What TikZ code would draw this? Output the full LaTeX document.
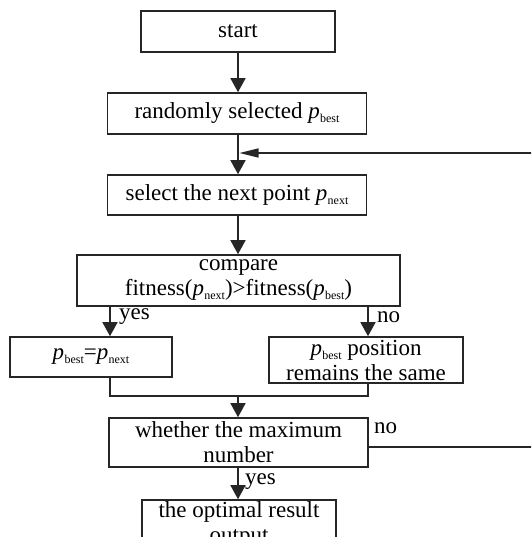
\documentclass[tikz,border=0pt]{standalone}
\usepackage{fontspec}
\setmainfont{Liberation Serif}
\usetikzlibrary{arrows.meta}
% italic variable with a small lowered subscript word
\newcommand\pvar[1]{\textit{p}\kern0.3pt\raisebox{-4pt}{\fontsize{12}{12}\selectfont #1}}
\definecolor{linec}{HTML}{262626}
\begin{document}
\begin{tikzpicture}[x=1pt,y=-1pt,
  font=\fontsize{23}{25}\selectfont,
  box/.style={draw=linec, line width=1.6pt, align=center, inner sep=0pt},
  arr/.style={draw=linec, line width=1.5pt, -{Triangle[length=14pt,width=15pt]}},
  wire/.style={draw=linec, line width=1.5pt},
  lbl/.style={inner sep=0pt, anchor=west}]
\clip (0,0) rectangle (531,537);
\useasboundingbox (0,0) rectangle (531,537);

% process boxes
\node[box, minimum width=194pt, minimum height=41pt] (start) at (238,31.5) {start};
\node[box, minimum width=259pt, minimum height=41pt] (rand) at (237,113.5) {randomly selected \pvar{best}};
\node[box, minimum width=259pt, minimum height=40pt] (sel) at (237,195) {select the next point \pvar{next}};
\node[box, minimum width=323pt, minimum height=51pt] (cmp) at (238.5,280.5)
  {compare\\fitness(\pvar{next})>fitness(\pvar{best})};
\node[box, minimum width=162pt, minimum height=40pt] (upd) at (91,357) {\pvar{best}=\pvar{next}};
\node[box, minimum width=194pt, minimum height=46pt] (keep) at (366,360)
  {\pvar{best} position\\remains the same};
\node[box, minimum width=259pt, minimum height=49pt] (iter) at (238.5,442.5)
  {whether the maximum\\number};
\node[box, minimum width=194pt, minimum height=49pt] (out) at (239,524.5)
  {the optimal result\\output};

% helper points
\coordinate (fb) at (238,153);
\coordinate (yesx) at (110,0);
\coordinate (nox) at (368,0);
\coordinate (join) at (238,396);

% main flow
\draw[arr] (start) -- (start |- rand.north);
\draw[wire] (rand.south -| start) -- (fb);
\draw[arr] (fb) -- (sel.north -| start);
\draw[arr] (sel.south -| start) -- (cmp.north -| start);
\draw[arr] (cmp.south -| yesx) -- (upd.north -| yesx);
\draw[arr] (cmp.south -| nox) -- (keep.north -| nox);
\draw[wire] (upd.south -| yesx) |- (join) -| (keep.south -| nox);
\draw[arr] (join) -- (iter.north -| join);
\draw[arr] (iter.south -| join) -- (out.north -| join);

% loop back when the maximum is not reached
\draw[wire, -{Triangle[length=19pt,width=9pt]}, shorten >=1.5pt]
  ([yshift=-4.5pt]iter.east) -- ++(180,0) |- (fb);

% branch labels
\node[lbl] at (119,317) {yes};
\node[lbl] at (377,317) {no};
\node[lbl] at (374,428) {no};
\node[lbl] at (245,482) {yes};
\end{tikzpicture}
\end{document}
